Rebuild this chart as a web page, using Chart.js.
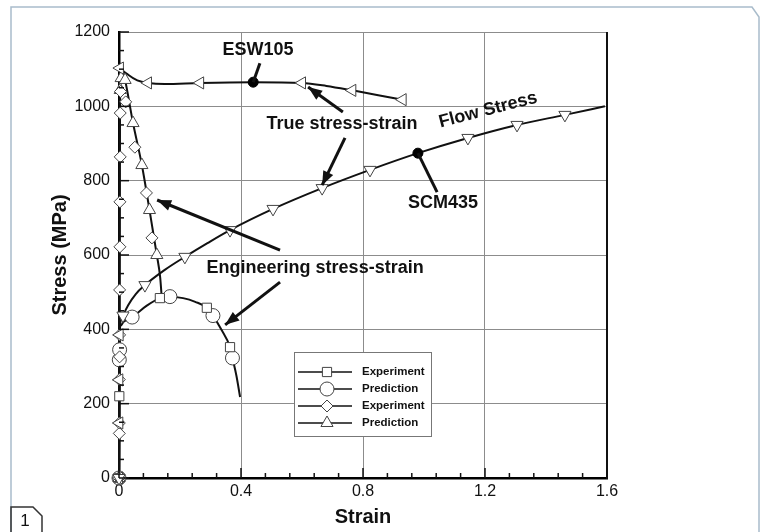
<!DOCTYPE html>
<html>
<head>
<meta charset="utf-8">
<script src="https://cdn.jsdelivr.net/npm/chart.js@4.4.0/dist/chart.umd.min.js"></script>
<style>
  html, body { margin: 0; padding: 0; background: #fff; }
  canvas { display: block; }
</style>
</head>
<body>
<canvas id="grafico" width="761" height="532" style="width:761px;height:532px"></canvas>
<script>
// ---- values (strain [-], stress [MPa]) ----
const xTicks = [0, 0.4, 0.8, 1.2, 1.6];
const yTicks = [0, 200, 400, 600, 800, 1000, 1200];

// SCM435 engineering stress-strain curve
const engScmX = [0, 0.002, 0.006, 0.015, 0.043, 0.09, 0.134, 0.167, 0.21, 0.25, 0.288, 0.308, 0.335, 0.364, 0.372, 0.385, 0.397];
const engScmY = [0, 395, 410, 420, 433, 463, 484, 488, 484, 474, 458, 437, 400, 352, 323, 275, 218];
// SCM435 experiment (squares) / prediction (circles)
const sqX = [0, 0.001, 0.134, 0.288, 0.364];
const sqY = [0, 220, 484, 458, 352];
const ciX = [0, 0.001, 0.002, 0.043, 0.167, 0.308, 0.372];
const ciY = [0, 318, 345, 433, 488, 437, 323];

// SCM435 flow stress (true stress-strain)
const flowX = [0, 0.002, 0.008, 0.015, 0.03, 0.055, 0.085, 0.15, 0.216, 0.29, 0.364, 0.505, 0.666, 0.823, 0.98, 1.144, 1.305, 1.462, 1.593];
const flowY = [0, 398, 425, 440, 465, 495, 519, 560, 595, 632, 667, 724, 780, 829, 874, 915, 950, 977, 1000];
const flowMkX = [0, 0.013, 0.085, 0.216, 0.364, 0.505, 0.666, 0.823, 1.144, 1.305, 1.462];
const flowMkY = [0, 437, 519, 595, 667, 724, 780, 829, 915, 950, 977];

// ESW105 engineering curve
const engEswX = [0, 0.002, 0.005, 0.012, 0.02, 0.046, 0.075, 0.1, 0.124, 0.135, 0.14];
const engEswY = [0, 700, 1100, 1095, 1071, 955, 842, 721, 600, 540, 487];
// ESW105 experiment (diamonds) / prediction (triangles)
const diX = [0, 0.001, 0.001, 0.001, 0.002, 0.002, 0.002, 0.003, 0.003, 0.004, 0.004, 0.005, 0.022, 0.052, 0.09, 0.108];
const diY = [0, 120, 148, 265, 326, 385, 506, 622, 743, 864, 982, 1040, 1012, 890, 767, 646];
const trX = [0, 0.004, 0.007, 0.02, 0.046, 0.075, 0.1, 0.124];
const trY = [0, 1044, 1076, 1071, 955, 842, 721, 600];

// ESW105 true stress-strain
const trueX = [0, 0.002, 0.003, 0.01, 0.03, 0.06, 0.095, 0.15, 0.266, 0.44, 0.6, 0.68, 0.765, 0.85, 0.93];
const trueY = [0, 900, 1115, 1100, 1085, 1070, 1063, 1060, 1063, 1065, 1063, 1055, 1043, 1030, 1018];
const trueMkX = [0, 0.001, 0.001, 0.002, 0.003, 0.095, 0.266, 0.6, 0.765, 0.93];
const trueMkY = [0, 148, 264, 385, 1103, 1063, 1063, 1063, 1043, 1018];

// labelled points
const dotX = [0.44, 0.98];
const dotY = [1065, 874];

const pts = (xs, ys) => xs.map((x, i) => ({ x, y: ys[i] }));

const FONTE = "'Liberation Sans', Arial, sans-serif";

const linha = (xs, ys) => ({
  data: pts(xs, ys), showLine: true, pointRadius: 0, borderColor: '#111',
  borderWidth: 2, cubicInterpolationMode: 'monotone', order: 3, clip: 4
});
const marca = (xs, ys, estilo, raio, rot) => ({
  data: pts(xs, ys), showLine: false, pointStyle: estilo, pointRadius: raio,
  rotation: rot || 0, pointBackgroundColor: '#fff', pointBorderColor: '#444',
  pointBorderWidth: 1, order: 1, clip: false
});

const datasets = [
  linha(engScmX, engScmY),
  linha(flowX, flowY),
  linha(engEswX, engEswY),
  linha(trueX, trueY),
  marca(flowMkX, flowMkY, 'triangle', 7, 180),
  marca(trueMkX, trueMkY, 'triangle', 7, 270),
  marca(diX, diY, 'rectRot', 6),
  marca(trX, trY, 'triangle', 7),
  marca(sqX, sqY, 'rect', 6.5),
  marca(ciX, ciY, 'circle', 7),
  { data: pts(dotX, dotY), showLine: false, pointRadius: 5, pointStyle: 'circle',
    pointBackgroundColor: '#000', pointBorderColor: '#000', order: 0, clip: false }
];

// little helper to draw markers in the hand-made legend
function desenhaMarca(ctx, tipo, x, y, r) {
  ctx.save();
  ctx.fillStyle = '#fff';
  ctx.strokeStyle = '#444';
  ctx.lineWidth = 1;
  ctx.beginPath();
  if (tipo === 'rect') {
    const s = r * Math.SQRT1_2;
    ctx.rect(x - s, y - s, 2 * s, 2 * s);
  } else if (tipo === 'circle') {
    ctx.arc(x, y, r, 0, Math.PI * 2);
  } else if (tipo === 'rectRot') {
    ctx.moveTo(x, y - r); ctx.lineTo(x + r, y); ctx.lineTo(x, y + r); ctx.lineTo(x - r, y); ctx.closePath();
  } else {
    let a = 0;
    ctx.moveTo(x + Math.sin(a) * r, y - Math.cos(a) * r);
    a += 2 * Math.PI / 3; ctx.lineTo(x + Math.sin(a) * r, y - Math.cos(a) * r);
    a += 2 * Math.PI / 3; ctx.lineTo(x + Math.sin(a) * r, y - Math.cos(a) * r);
    ctx.closePath();
  }
  ctx.fill();
  ctx.stroke();
  ctx.restore();
}

function seta(ctx, x1, y1, x2, y2, ponta) {
  ctx.beginPath();
  ctx.moveTo(x1, y1);
  ctx.lineTo(x2, y2);
  ctx.stroke();
  if (!ponta) return;
  const ang = Math.atan2(y2 - y1, x2 - x1);
  const L = 14, W = 5.5;
  ctx.beginPath();
  ctx.moveTo(x2, y2);
  ctx.lineTo(x2 - L * Math.cos(ang) + W * Math.sin(ang), y2 - L * Math.sin(ang) - W * Math.cos(ang));
  ctx.lineTo(x2 - L * Math.cos(ang) - W * Math.sin(ang), y2 - L * Math.sin(ang) + W * Math.cos(ang));
  ctx.closePath();
  ctx.fill();
}

const moldura = {
  id: 'moldura',
  beforeDraw(chart) {
    const ctx = chart.ctx;
    ctx.save();
    ctx.fillStyle = '#fff';
    ctx.fillRect(0, 0, chart.width, chart.height);
    // outer panel frame with cut corner
    ctx.strokeStyle = '#a9bccb';
    ctx.lineWidth = 1.5;
    ctx.beginPath();
    ctx.moveTo(11, 540); ctx.lineTo(11, 7); ctx.lineTo(752, 7); ctx.lineTo(759, 17); ctx.lineTo(759, 540);
    ctx.stroke();
    // panel number tab
    ctx.strokeStyle = '#333';
    ctx.beginPath();
    ctx.moveTo(11, 540); ctx.lineTo(11, 507); ctx.lineTo(33, 507); ctx.lineTo(42, 516); ctx.lineTo(42, 540);
    ctx.stroke();
    ctx.fillStyle = '#111';
    ctx.font = '17px ' + FONTE;
    ctx.textAlign = 'center';
    ctx.textBaseline = 'middle';
    ctx.fillText('1', 25, 521);
    ctx.restore();
  },
  afterDraw(chart) {
    const ctx = chart.ctx;
    const { left, right, top, bottom } = chart.chartArea;
    const sx = chart.scales.x, sy = chart.scales.y;
    ctx.save();
    // right frame edge
    ctx.strokeStyle = '#111';
    ctx.lineWidth = 2;
    ctx.beginPath(); ctx.moveTo(right, top); ctx.lineTo(right, bottom + 1); ctx.stroke();
    // inward ticks, major and minor
    ctx.lineWidth = 1.5;
    for (let i = 0; i <= 20; i++) {
      const v = i * 0.08;
      const px = sx.getPixelForValue(v);
      const len = i % 5 === 0 ? 10 : 5;
      ctx.beginPath(); ctx.moveTo(px, bottom); ctx.lineTo(px, bottom - len); ctx.stroke();
    }
    for (let i = 0; i <= 24; i++) {
      const py = sy.getPixelForValue(i * 50);
      const len = i % 4 === 0 ? 10 : 5;
      ctx.beginPath(); ctx.moveTo(left, py); ctx.lineTo(left + len, py); ctx.stroke();
    }

    // annotations: pointers and labels (data coordinates)
    const P = (x, y) => [sx.getPixelForValue(x), sy.getPixelForValue(y)];
    ctx.strokeStyle = '#111';
    ctx.fillStyle = '#111';
    ctx.lineWidth = 3;
    const setas = [
      [0.462, 1116, 0.44, 1065, false],
      [0.734, 985, 0.62, 1052, true],
      [0.741, 915, 0.666, 788, true],
      [1.043, 769, 0.98, 874, false],
      [0.528, 613, 0.125, 748, true],
      [0.528, 527, 0.348, 412, true]
    ];
    setas.forEach(s => {
      const a = P(s[0], s[1]), b = P(s[2], s[3]);
      seta(ctx, a[0], a[1], b[0], b[1], s[4]);
    });

    ctx.font = 'bold 18px ' + FONTE;
    ctx.textAlign = 'center';
    ctx.textBaseline = 'middle';
    const textos = [
      ['ESW105', 0.456, 1151, 0],
      ['True stress-strain', 0.731, 952, 0],
      ['SCM435', 1.062, 740, 0],
      ['Engineering stress-strain', 0.643, 565, 0],
      ['Flow Stress', 1.21, 990, -14.5]
    ];
    textos.forEach(t => {
      const p = P(t[1], t[2]);
      ctx.save();
      ctx.translate(p[0], p[1]);
      ctx.rotate(t[3] * Math.PI / 180);
      ctx.fillText(t[0], 0, 0);
      ctx.restore();
    });

    // legend box
    const lx = left + 175, ly = top + 320;
    ctx.fillStyle = '#fff';
    ctx.fillRect(lx, ly, 137, 84);
    ctx.strokeStyle = '#777';
    ctx.lineWidth = 1;
    ctx.strokeRect(lx + 0.5, ly + 0.5, 137, 84);
    const itens = [['rect', 6.5, 'Experiment'], ['circle', 7, 'Prediction'], ['rectRot', 6, 'Experiment'], ['triangle', 7, 'Prediction']];
    ctx.font = 'bold 11.5px ' + FONTE;
    ctx.textAlign = 'left';
    ctx.textBaseline = 'middle';
    itens.forEach((it, i) => {
      const y = ly + 20 + i * 17;
      ctx.strokeStyle = '#111';
      ctx.lineWidth = 1.5;
      ctx.beginPath(); ctx.moveTo(lx + 4, y); ctx.lineTo(lx + 58, y); ctx.stroke();
      desenhaMarca(ctx, it[0], lx + 33, y, it[1]);
      ctx.fillStyle = '#111';
      ctx.fillText(it[2], lx + 68, y);
    });
    ctx.restore();
  }
};

new Chart(document.getElementById('grafico'), {
  type: 'scatter',
  data: { datasets },
  options: {
    responsive: false,
    animation: false,
    devicePixelRatio: 1,
    layout: { padding: { left: 0, top: 32, right: 154, bottom: 0 } },
    plugins: { legend: { display: false }, tooltip: { enabled: false } },
    scales: {
      x: {
        type: 'linear', min: 0, max: 1.6,
        afterBuildTicks: s => { s.ticks = xTicks.map(v => ({ value: v })); },
        afterFit: s => { s.height = 54; },
        grid: { color: '#8c8c8c', lineWidth: 1, drawTicks: false },
        border: { display: true, color: '#000', width: 2.5 },
        ticks: {
          padding: 4, maxRotation: 0, color: '#111',
          font: { family: FONTE, size: 16 },
          callback: v => (v === 0 ? '0' : v.toFixed(1))
        },
        title: {
          display: true, text: 'Strain', color: '#111',
          font: { family: FONTE, size: 20, weight: 'bold' },
          padding: { top: 0, bottom: 3 }
        }
      },
      y: {
        type: 'linear', min: 0, max: 1200,
        afterBuildTicks: s => { s.ticks = yTicks.map(v => ({ value: v })); },
        afterFit: s => { s.width = 119; },
        grid: { color: '#8c8c8c', lineWidth: 1, drawTicks: false },
        border: { display: true, color: '#000', width: 2.5 },
        ticks: {
          padding: 9, color: '#111',
          font: { family: FONTE, size: 16 },
          callback: v => String(v)
        },
        title: {
          display: true, text: 'Stress (MPa)', color: '#111',
          font: { family: FONTE, size: 20, weight: 'bold' },
          padding: { top: 48, bottom: 0 }
        }
      }
    }
  },
  plugins: [moldura]
});
</script>
</body>
</html>
